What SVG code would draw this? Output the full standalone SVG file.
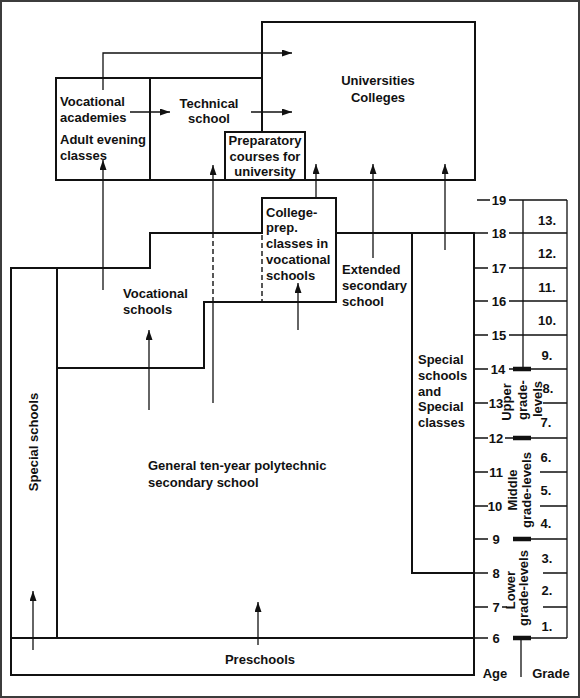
<svg xmlns="http://www.w3.org/2000/svg" width="580" height="698" viewBox="0 0 580 698">
<defs>
<marker id="ah" markerUnits="userSpaceOnUse" markerWidth="10" markerHeight="8" refX="10" refY="3.5" orient="auto">
<path d="M0,0 L10,3.5 L0,7 z" fill="#111"/>
</marker>
<style>
.o{fill:none;stroke:#111;stroke-width:2;stroke-linecap:square}
.d{fill:none;stroke:#111;stroke-width:1.4;stroke-dasharray:5,3}
.a{fill:none;stroke:#111;stroke-width:1.3;marker-end:url(#ah)}
.t{fill:none;stroke:#111;stroke-width:1.3}
.k{fill:none;stroke:#111;stroke-width:4.5}
text{font-family:"Liberation Sans",Arial,sans-serif;font-weight:bold;font-size:13px;fill:#111}
.m{text-anchor:middle}
.s{font-size:11px}
</style>
</defs>
<rect x="1" y="1" width="578" height="696" fill="#fff" stroke="#3c3c3c" stroke-width="2"/>

<g id="universities">
<path class="o" d="M262,132 V22 H475 V180"/>
<text class="m" x="378" y="85">Universities</text>
<text class="m" x="378" y="101.5">Colleges</text>
</g>

<g id="vocational-academies">
<path class="o" d="M56,180 V78 H150 V180"/>
<text x="60" y="105.5">Vocational</text>
<text x="60" y="121.5">academies</text>
<text x="60" y="143.5">Adult evening</text>
<text x="60" y="159.5">classes</text>
</g>

<g id="technical-school">
<path class="o" d="M150,78 H262 M56,180 H475"/>
<text class="m" x="209" y="107.5">Technical</text>
<text class="m" x="209" y="122.5">school</text>
</g>

<g id="preparatory-courses">
<rect class="o" x="225" y="132" width="80" height="48"/>
<text class="m" x="265" y="145">Preparatory</text>
<text class="m" x="265" y="160.5">courses for</text>
<text class="m" x="265" y="176">university</text>
</g>

<g id="college-prep">
<path class="o" d="M262,233 V198 H336 V302"/>
<path class="d" d="M262,235 V301"/>
<text x="266" y="216.5">College-</text>
<text x="266" y="231.5">prep.</text>
<text x="266" y="247.5">classes in</text>
<text x="266" y="263.5">vocational</text>
<text x="266" y="279.5">schools</text>
</g>

<g id="vocational-schools">
<path class="o" d="M11,268 H150 V233 H262 M336,302 H204 V368 H57"/>
<text x="123" y="297.5">Vocational</text>
<text x="123" y="313.5">schools</text>
</g>

<g id="extended-secondary">
<path class="o" d="M336,233 H474"/>
<text x="342" y="273.5">Extended</text>
<text x="342" y="289.5">secondary</text>
<text x="342" y="305.5">school</text>
</g>

<g id="special-classes">
<path class="o" d="M412,233 V573 H474"/>
<text x="418" y="363.5">Special</text>
<text x="418" y="379.5">schools</text>
<text x="418" y="395.5">and</text>
<text x="418" y="411">Special</text>
<text x="418" y="426.5">classes</text>
</g>

<g id="special-schools">
<path class="o" d="M11,268 V675 M57,268 V638"/>
<text class="m" x="37.5" y="442" transform="rotate(-90 37.5 442)">Special schools</text>
</g>

<g id="general-school">
<path class="o" d="M474,233 V675"/>
<text x="148" y="469.5">General ten-year polytechnic</text>
<text x="148" y="486.5">secondary school</text>
</g>

<g id="preschools">
<path class="o" d="M11,638 H474 M11,675 H474"/>
<text class="m" x="260" y="663.5">Preschools</text>
</g>

<g id="scale">
<path class="t" d="M477,200 H490 M474,233 H488 M474,268 H488 M474,301 H488 M474,335 H488 M474,369 H488 M474,403 H488 M474,438 H488 M474,472 H488 M474,506 H488 M474,539 H488 M474,573 H488 M474,607 H488 M474,638 H488"/>
<path class="t" d="M509,200 H567 M509,233 H567 M509,268 H567 M509,301 H567 M509,335 H567 M509,369 H567 M543,403 H567 M505,438 H567 M540,472 H567 M540,506 H567 M513,539 H567 M543,573 H567 M502,607 H507 M543,607 H567 M513,638 H567"/>
<path class="t" d="M523,200 V369 M567,200 V638 M521,638 V677"/>
<path class="k" d="M513,369 H531 M513,438 H531 M513,539 H531 M513,638 H531"/>
<g class="m">
<text x="499" y="204.5">19</text>
<text x="499" y="237.5">18</text>
<text x="499" y="272.5">17</text>
<text x="499" y="305.5">16</text>
<text x="499" y="339.5">15</text>
<text x="498" y="373.5">14</text>
<text x="496" y="407.5">13</text>
<text x="496" y="442.5">12</text>
<text x="496" y="476.5">11</text>
<text x="495" y="510.5">10</text>
<text x="496" y="543.5">9</text>
<text x="496" y="577.5">8</text>
<text x="496" y="611.5">7</text>
<text x="496" y="642.5">6</text>
<text x="547" y="224.5">13.</text>
<text x="547" y="257.5">12.</text>
<text x="547" y="291.5">11.</text>
<text x="547" y="324.5">10.</text>
<text x="547" y="359.5">9.</text>
<text x="548" y="392.5">8.</text>
<text x="546" y="426.5">7.</text>
<text x="546" y="461.5">6.</text>
<text x="546" y="494.5">5.</text>
<text x="546" y="527.5">4.</text>
<text x="547" y="562.5">3.</text>
<text x="547" y="594.5">2.</text>
<text x="547" y="630.5">1.</text>
<text x="495" y="677.5">Age</text>
<text x="551" y="677.5">Grade</text>
</g>
<g class="m s">
<text x="511" y="402" transform="rotate(-90 511 402)">Upper</text>
<text x="526.5" y="400" transform="rotate(-90 526.5 400)">grade-</text>
<text x="542" y="399" transform="rotate(-90 542 399)">levels</text>
<text x="516.5" y="490" transform="rotate(-90 516.5 490)">Middle</text>
<text x="531" y="490" transform="rotate(-90 531 490)">grade-levels</text>
<text x="514.5" y="590" transform="rotate(-90 514.5 590)">Lower</text>
<text x="528" y="588" transform="rotate(-90 528 588)">grade-levels</text>
</g>
</g>

<g id="connectors">
<path class="a" d="M103,90 V53 H292"/>
<path class="a" d="M130,112 H170"/>
<path class="a" d="M251,112 H292"/>
<path class="a" d="M103,290 V160"/>
<path class="t" d="M213,403 V302"/>
<path class="d" d="M213,302 V233"/>
<path class="a" d="M213,233 V165"/>
<path class="a" d="M316,198 V164"/>
<path class="a" d="M373,258 V164"/>
<path class="a" d="M445,250 V164"/>
<path class="a" d="M298,330 V283"/>
<path class="a" d="M149,410 V330"/>
<path class="a" d="M33,650 V591"/>
<path class="a" d="M258,645 V602"/>
</g>
</svg>
